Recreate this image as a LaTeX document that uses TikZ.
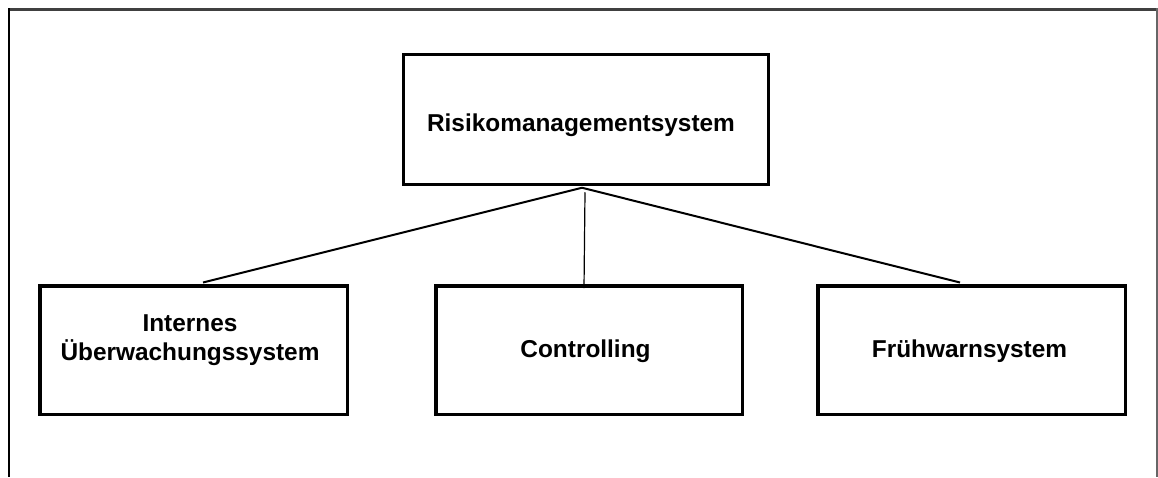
\documentclass[tikz,border=0pt]{standalone}
\usepackage{fontspec}
\setmainfont{Liberation Sans}
\usetikzlibrary{calc}
\tikzset{
  box/.style={draw=black, line width=3.5pt, fill=white, inner sep=0pt},
  lbl/.style={anchor=base, inner sep=0pt, font=\fontsize{24.4}{29}\selectfont\bfseries},
  conn/.style={draw=black, line width=2pt},
  thinconn/.style={draw=black, line width=1.2pt},
}
\begin{document}
\begin{tikzpicture}[x=1pt,y=-1pt]
\useasboundingbox[fill=white] (0,0) rectangle (1158,477);
% outer frame (open at the bottom)
\draw[black!75, line width=3pt] (8,9) -- (1158,9);
\draw[black, line width=2.5pt] (9.2,8) -- (9.2,477);
\draw[black!60, line width=2pt] (1156.5,8) -- (1156.5,477);

% boxes
\node[box, minimum width=365pt, minimum height=130pt] (rms) at (586,119.5) {};
\node[box, minimum width=307.5pt, minimum height=128.5pt] (ius) at (193.5,350) {};
\node[box, minimum width=306.5pt, minimum height=128.5pt] (ctl) at (589,350) {};
\node[box, minimum width=307.5pt, minimum height=128.5pt] (fws) at (971.5,350) {};

% labels
\node[lbl] (trms) at (581,131.7) {Risikomanagementsystem};
\node[lbl] (tius1) at (190,331.7) {Internes};
\node[lbl] (tius2) at (190,360.7) {Überwachungssystem};
\node[lbl] (tctl) at (585.5,357.3) {Controlling};
\node[lbl] (tfws) at (969.5,357.3) {Frühwarnsystem};

% connectors
\coordinate (hub) at ($(rms.south)+(-4,1.5)$);
\draw[conn] (hub) -- ($(ius.north)+(9.5,-1.5)$);
\draw[conn] (hub) -- ($(fws.north)+(-11.5,-1.5)$);
\draw[thinconn] ($(rms.south)+(-1,6)$) -- ($(ctl.north)+(-5,4)$);
\end{tikzpicture}
\end{document}
